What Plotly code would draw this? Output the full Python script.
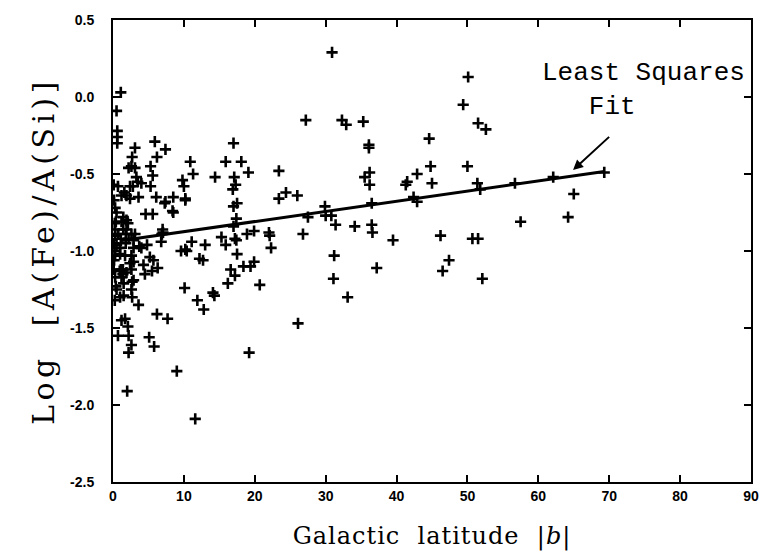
import plotly.graph_objects as go

# Galactic latitude |b| (degrees) and Log[A(Fe)/A(Si)] for each star
lat = [30.9, 1.1, 0.5, 0.6, 0.6, 0.6, 27.2, 32.3, 32.9, 35.3, 36.1, 36.1, 5.9, 3.1, 7.4, 17.0, 6.2,
       2.7, 2.6, 2.2, 3.1, 10.9, 11.3, 15.9, 18.1, 19.1, 23.4, 5.3, 5.6, 14.4, 17.1, 17.3, 16.9,
       9.8, 10.0, 10.2, 35.5, 36.2, 36.2, 3.3, 3.5, 2.8, 2.4, 4.0, 5.3, 0.7, 0.1, 1.6, 1.9, 1.2,
       2.4, 3.6, 6.1, 7.4, 8.5, 0.15, 24.4, 23.4, 26.0, 8.4, 4.6, 5.6, 17.0, 17.5, 29.9, 30.0,
       30.8, 27.5, 31.4, 34.1, 36.5, 36.6, 36.5, 39.5, 26.8, 17.0, 19.9, 18.9, 22.0, 22.1, 7.0,
       6.9, 15.3, 15.9, 17.2, 17.4, 11.1, 13.0, 10.2, 22.3, 50.1, 49.4, 51.5, 52.6, 44.6, 44.8,
       50.0, 42.9, 41.5, 41.3, 45.0, 51.4, 51.8, 56.7, 62.1, 42.4, 42.9, 69.3, 65.0, 64.2, 57.5,
       46.2, 50.7, 51.5, 46.5, 47.4, 52.1, 17.5, 31.2, 18.4, 19.4, 19.9, 16.6, 17.2, 37.2, 31.1,
       20.7, 33.1, 26.1, 9.6, 10.4, 12.2, 12.7, 16.2, 10.1, 11.9, 12.8, 14.1, 14.3, 6.2, 7.7,
       5.1, 5.8, 19.2, 9.0, 2.0, 11.6, 2.1, 2.2, 2.6, 2.2, 0.7, 1.2, 1.7, 0.4, 1.0, 1.5, 1.5,
       2.6, 2.7, 3.6, 4.3, 4.5, 5.5, 5.7, 5.2, 6.3, 3.7, 4.8, 4.0, 1.1, 1.4, 1.9, 2.9, 2.9,
       2.6, 0.3, 1.0, 1.7, 2.4, 2.6, 1.4, 0.95, 1.2, 2.7, 0.5, 6.8, 7.05, 0.4, 0.3, 0.3, 0.75,
       1.1, 0.5, 1.0, 1.45, 1.8, 2.2, 2.6, 1.8, 2.9, 1.45, 1.9, 2.9, 2.1, 1.2, 0.25, 1.9, 3.1,
       0.1, 0.2, 0.15, 0.1, 0.3, 0.25, 0.3, 0.5, 7.3, 10.2, 8.5, 17.4]
fe_si = [0.29, 0.03, -0.09, -0.22, -0.26, -0.30, -0.15, -0.15, -0.18, -0.16, -0.31, -0.33, -0.29,
         -0.33, -0.34, -0.30, -0.39, -0.39, -0.45, -0.46, -0.46, -0.42, -0.50, -0.42, -0.42,
         -0.49, -0.48, -0.45, -0.51, -0.52, -0.52, -0.57, -0.60, -0.54, -0.58, -0.66, -0.52,
         -0.49, -0.57, -0.52, -0.55, -0.58, -0.58, -0.56, -0.58, -0.58, -0.57, -0.62, -0.64,
         -0.64, -0.66, -0.65, -0.65, -0.68, -0.65, -0.67, -0.62, -0.66, -0.64, -0.74, -0.76,
         -0.76, -0.71, -0.69, -0.71, -0.77, -0.77, -0.78, -0.83, -0.84, -0.83, -0.88, -0.69,
         -0.93, -0.89, -0.84, -0.87, -0.89, -0.88, -0.90, -0.86, -0.89, -0.91, -0.96, -0.92,
         -0.93, -0.94, -0.96, -0.99, -0.98, 0.13, -0.05, -0.17, -0.21, -0.27, -0.45, -0.45,
         -0.50, -0.55, -0.57, -0.56, -0.56, -0.60, -0.56, -0.52, -0.65, -0.68, -0.49, -0.63,
         -0.78, -0.81, -0.90, -0.92, -0.92, -1.13, -1.06, -1.18, -1.02, -1.03, -1.10, -1.10,
         -1.07, -1.12, -1.16, -1.11, -1.18, -1.22, -1.30, -1.47, -1.00, -1.00, -1.05, -1.06,
         -1.21, -1.24, -1.32, -1.38, -1.27, -1.29, -1.41, -1.44, -1.56, -1.62, -1.66, -1.78,
         -1.91, -2.09, -1.49, -1.55, -1.61, -1.66, -1.55, -1.45, -1.44, -1.23, -1.30, -1.29,
         -1.21, -1.25, -1.30, -1.35, -1.09, -1.15, -1.13, -1.06, -1.04, -1.11, -0.97, -0.96,
         -0.98, -1.12, -1.15, -1.14, -1.19, -1.07, -1.03, -1.03, -1.02, -1.03, -1.08, -1.12,
         -1.12, -1.13, -1.17, -1.20, -1.25, -0.94, -0.88, -0.81, -0.86, -0.90, -0.89, -0.92,
         -0.96, -0.98, -0.86, -0.89, -0.92, -0.89, -0.95, -0.93, -0.78, -0.80, -0.98, -0.82,
         -0.81, -0.82, -0.86, -0.89, -0.95, -1.00, -1.06, -1.12, -1.17, -1.32, -0.72, -0.75,
         -0.69, -0.67, -0.75, -0.79]

# Least squares fit line (end points)
fit_lat = [1.0, 69.3]
fit_val = [-0.934, -0.484]

x_ticks = [0, 10, 20, 30, 40, 50, 60, 70, 80, 90]
y_ticks = [0.5, 0.0, -0.5, -1.0, -1.5, -2.0, -2.5]
y_ticktext = ["0.5", "0.0", "-0.5", "-1.0", "-1.5", "-2.0", "-2.5"]

fig = go.Figure()
fig.add_trace(go.Scatter(
    x=fit_lat, y=fit_val, mode="lines",
    line=dict(color="black", width=3), showlegend=False, hoverinfo="skip"))
fig.add_trace(go.Scatter(
    x=lat, y=fe_si, mode="markers",
    marker=dict(symbol="cross-thin", size=8, line=dict(color="black", width=2.6)),
    showlegend=False))

tickfont = dict(family="Liberation Sans, Arial, sans-serif", size=14, color="black", weight="bold")
axis_common = dict(
    showgrid=False, zeroline=False, showline=True, linecolor="black", linewidth=2,
    mirror="ticks", ticks="inside", ticklen=7, tickwidth=1.5, tickcolor="black",
    tickfont=tickfont)

fig.update_xaxes(range=[0, 90], tickvals=x_ticks, ticktext=[str(v) for v in x_ticks],
                 title=dict(text="Galactic  latitude  |<i>b</i>|",
                            font=dict(family="DejaVu Serif, serif", size=24, color="black"),
                            standoff=24),
                 ticklabelstandoff=0,
                 **axis_common)
fig.update_yaxes(range=[-2.5, 0.5], tickvals=y_ticks, ticktext=y_ticktext,
                 title=dict(text="Log  [A(Fe)/A(Si)]",
                            font=dict(family="DejaVu Serif, serif", size=30, color="black"),
                            standoff=7),
                 ticklabelstandoff=14,
                 **axis_common)

fig.add_annotation(x=74.9, y=0.045, xref="x", yref="y",
                   text="Least Squares<br>   Fit", showarrow=False, align="left",
                   font=dict(family="Liberation Mono, Courier New, monospace", size=26, color="black"))
fig.add_annotation(x=64.9, y=-0.474, ax=70.2, ay=-0.25, xref="x", yref="y",
                   axref="x", ayref="y", text="", showarrow=True,
                   arrowhead=2, arrowsize=1, arrowwidth=2, arrowcolor="black")

# the page body has an 8px margin, so the figure and margins are trimmed accordingly
fig.update_layout(
    width=760, height=552,
    margin=dict(l=105, r=17, t=12, b=78, autoexpand=False),
    plot_bgcolor="white", paper_bgcolor="white",
)

post = """
document.querySelectorAll('.ytitle').forEach(function(e){e.style.letterSpacing='4.5px';});
document.querySelectorAll('.xtitle').forEach(function(e){e.style.letterSpacing='1px';});
"""
fig.write_html("out.html", post_script=post)
